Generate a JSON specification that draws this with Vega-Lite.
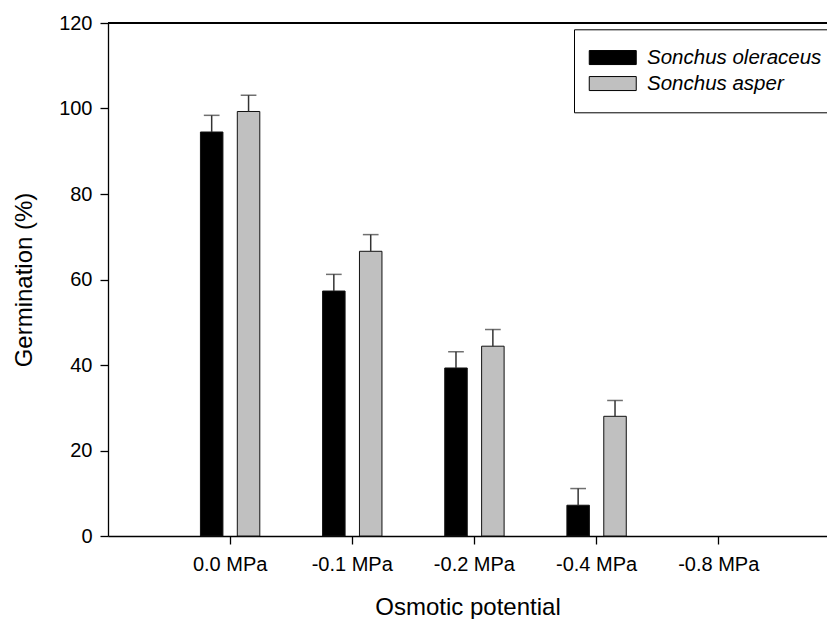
{
  "$schema": "https://vega.github.io/schema/vega-lite/v6.json",
  "autosize": {"type": "none"},
  "width": 719,
  "height": 513,
  "padding": {"left": 108, "top": 23, "right": 0, "bottom": 83},
  "config": {"font": "Liberation Sans", "view": {"stroke": null}},
  "data": {
    "values": [
      {"potential": "0.0 MPa", "species": "Sonchus oleraceus", "germ": 94.5, "hi": 98.4},
      {"potential": "0.0 MPa", "species": "Sonchus asper", "germ": 99.3, "hi": 103.1},
      {"potential": "-0.1 MPa", "species": "Sonchus oleraceus", "germ": 57.3, "hi": 61.2},
      {"potential": "-0.1 MPa", "species": "Sonchus asper", "germ": 66.6, "hi": 70.5},
      {"potential": "-0.2 MPa", "species": "Sonchus oleraceus", "germ": 39.3, "hi": 43.1},
      {"potential": "-0.2 MPa", "species": "Sonchus asper", "germ": 44.4, "hi": 48.3},
      {"potential": "-0.4 MPa", "species": "Sonchus oleraceus", "germ": 7.2, "hi": 11.1},
      {"potential": "-0.4 MPa", "species": "Sonchus asper", "germ": 28.0, "hi": 31.7},
      {"potential": "-0.8 MPa", "species": "Sonchus oleraceus", "germ": 0, "hi": null},
      {"potential": "-0.8 MPa", "species": "Sonchus asper", "germ": 0, "hi": null}
    ]
  },
  "layer": [
    {
      "mark": {"type": "rule", "color": "black", "strokeWidth": 1.3},
      "encoding": {"y": {"datum": 120, "type": "quantitative", "scale": {"domain": [0, 120]}}}
    },
    {
      "transform": [{"filter": "datum.germ > 0"}],
      "mark": {"type": "bar", "stroke": "#111", "strokeWidth": 1},
      "encoding": {
        "x": {
          "field": "potential", "type": "nominal",
          "scale": {"domain": ["0.0 MPa", "-0.1 MPa", "-0.2 MPa", "-0.4 MPa", "-0.8 MPa"], "paddingInner": 0, "paddingOuter": 0.443, "align": 0.564},
          "axis": {
            "title": "Osmotic potential", "labelAngle": 0, "tickSize": 8,
            "labelFontSize": 20, "labelColor": "black", "labelPadding": 10,
            "titleFontSize": 24, "titleFontWeight": "normal", "titleColor": "black", "titlePadding": 21,
            "domainColor": "black", "tickColor": "black", "domainWidth": 1.3, "tickWidth": 1.3
          }
        },
        "xOffset": {
          "field": "species", "type": "nominal",
          "scale": {"domain": ["Sonchus oleraceus", "Sonchus asper"], "paddingInner": 0.39, "paddingOuter": 0.851}
        },
        "y": {
          "field": "germ", "type": "quantitative",
          "scale": {"domain": [0, 120], "nice": false},
          "axis": {
            "title": "Germination (%)", "values": [0, 20, 40, 60, 80, 100, 120], "grid": false,
            "tickSize": 8, "labelFontSize": 20, "labelColor": "black", "labelPadding": 8,
            "titleFontSize": 24, "titleFontWeight": "normal", "titleColor": "black", "titlePadding": 22,
            "domainColor": "black", "tickColor": "black", "domainWidth": 1.3, "tickWidth": 1.3
          }
        },
        "color": {
          "field": "species", "type": "nominal",
          "scale": {"domain": ["Sonchus oleraceus", "Sonchus asper"], "range": ["#000000", "#c0c0c0"]},
          "legend": {
            "title": null, "orient": "none", "legendX": 466, "legendY": 6.3,
            "strokeColor": "black", "fillColor": "white", "padding": 18,
            "symbolType": "M-3.357,-1L3.357,-1L3.357,1L-3.357,1Z", "symbolSize": 196,
            "symbolOffset": 10.5, "labelOffset": 24,
            "symbolStrokeColor": "black", "symbolStrokeWidth": 1, "symbolOpacity": 1,
            "labelFontSize": 20.5, "labelFontStyle": "italic", "labelColor": "black",
            "rowPadding": 5, "labelLimit": 400
          }
        }
      }
    },
    {
      "transform": [{"filter": "datum.hi != null"}],
      "mark": {"type": "rule", "color": "#333", "strokeWidth": 1.5},
      "encoding": {
        "x": {"field": "potential", "type": "nominal"},
        "xOffset": {"field": "species", "type": "nominal"},
        "y": {"field": "germ", "type": "quantitative"},
        "y2": {"field": "hi"}
      }
    },
    {
      "transform": [{"filter": "datum.hi != null"}],
      "mark": {"type": "tick", "color": "#333", "size": 15.7, "thickness": 1.5},
      "encoding": {
        "x": {"field": "potential", "type": "nominal"},
        "xOffset": {"field": "species", "type": "nominal"},
        "y": {"field": "hi", "type": "quantitative"}
      }
    }
  ]
}
